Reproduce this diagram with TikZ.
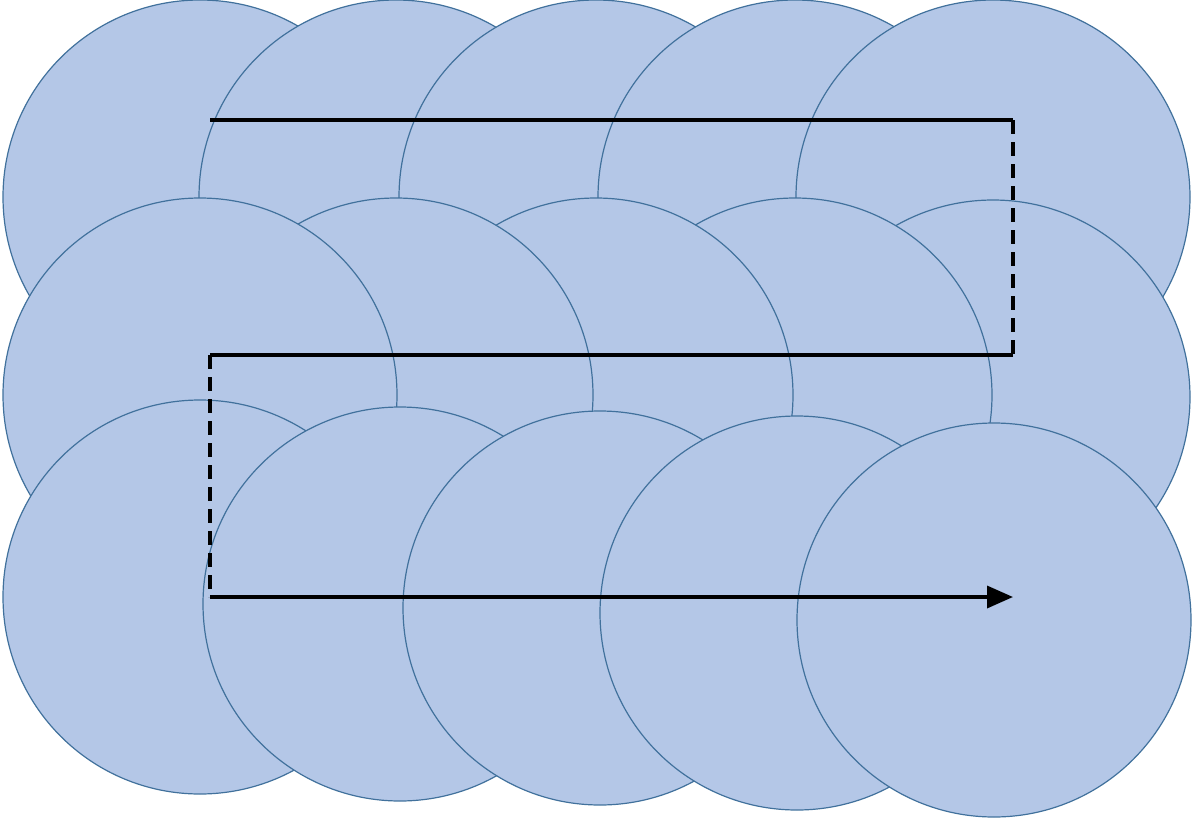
\documentclass[tikz,border=0pt]{standalone}
\usetikzlibrary{arrows.meta}
\definecolor{cfill}{HTML}{B4C7E7}
\definecolor{cdraw}{HTML}{41719C}
\tikzset{disc/.style={circle,draw=cdraw,fill=cfill,line width=1.2pt,minimum size=394pt,inner sep=0pt},
 path1/.style={line width=3.5pt,black},
 dpath/.style={line width=3.5pt,black,dash pattern=on 14pt off 8pt}}
\begin{document}
\begin{tikzpicture}[x=1pt,y=-1pt]
\useasboundingbox (0,0) rectangle (1200,822);
% row 1
\node[disc] (a1) at (200,197) {};
\node[disc] (a2) at (396,197) {};
\node[disc] (a3) at (596,197) {};
\node[disc] (a4) at (795,197) {};
\node[disc] (a5) at (993,197) {};
% row 2 (drawn right to left)
\node[disc] (b5) at (993,397) {};
\node[disc] (b4) at (795,395) {};
\node[disc] (b3) at (596,395) {};
\node[disc] (b2) at (396,395) {};
\node[disc] (b1) at (200,395) {};
% row 3
\node[disc] (c1) at (200,597) {};
\node[disc] (c2) at (400,604) {};
\node[disc] (c3) at (600,608) {};
\node[disc] (c4) at (797,613) {};
\node[disc] (c5) at (994,620) {};
\coordinate (p1) at (210,120);
\coordinate (p2) at (1013,120);
\coordinate (p3) at (1013,355);
\coordinate (p4) at (210,355);
\coordinate (p5) at (210,597);
\coordinate (p6) at (1013,597);
\draw[path1] (p1) -- (p2);
\draw[dpath] (p2) -- (p3);
\draw[path1] (p3) -- (p4);
\draw[dpath] (p4) -- (p5);
\draw[path1,-{Triangle[length=26pt,width=22pt]}] (p5) -- (p6);
\end{tikzpicture}
\end{document}
